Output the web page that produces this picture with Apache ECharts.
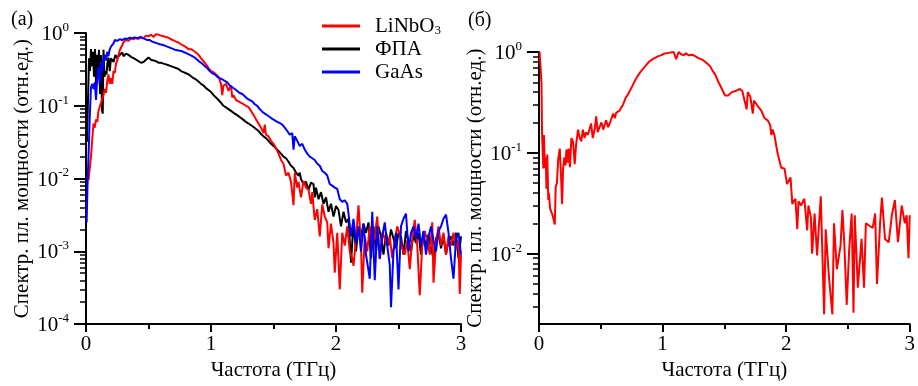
<!DOCTYPE html>
<html><head><meta charset="utf-8">
<script src="https://cdn.jsdelivr.net/npm/echarts@6/dist/echarts.min.js"></script>
<style>html,body{margin:0;padding:0;background:#fff}#c{width:918px;height:386px}</style>
</head><body><div id="c"></div>
<script>
// ---- data (a): LiNbO3 ----
var fLiNbO3 = [0.02,0.03,0.04,0.05,0.06,0.07,0.08,0.09,0.10,0.11,0.12,0.13,0.14,0.15,0.16,0.17,0.18,0.19,0.20,0.21,0.22,0.23,0.24,0.25,0.26,0.27,0.28,0.29,0.30,0.32,0.34,0.36,0.38,0.40,0.42,0.44,0.46,0.48,0.50,0.52,0.54,0.56,0.58,0.60,0.62,0.64,0.66,0.68,0.70,0.72,0.74,0.76,0.78,0.80,0.82,0.84,0.86,0.88,0.90,0.92,0.94,0.96,0.98,1.00,1.02,1.04,1.06,1.08,1.09,1.10,1.12,1.14,1.16,1.17,1.18,1.20,1.22,1.24,1.26,1.28,1.30,1.32,1.34,1.36,1.38,1.40,1.42,1.43,1.44,1.46,1.48,1.50,1.52,1.54,1.56,1.58,1.60,1.62,1.64,1.66,1.67,1.69,1.70,1.72,1.74,1.76,1.78,1.80,1.81,1.83,1.85,1.87,1.89,1.91,1.93,1.94,1.96,1.98,1.99,2.01,2.03,2.05,2.07,2.09,2.11,2.13,2.14,2.16,2.18,2.20,2.21,2.23,2.25,2.27,2.29,2.31,2.33,2.35,2.37,2.39,2.41,2.43,2.45,2.47,2.49,2.51,2.53,2.55,2.57,2.59,2.61,2.63,2.65,2.67,2.69,2.71,2.73,2.75,2.77,2.78,2.80,2.82,2.84,2.86,2.88,2.90,2.92,2.94,2.96,2.98,2.99,3.00];
var sLiNbO3 = [0.0095,0.009,0.02,0.035,0.057,0.05,0.065,0.06,0.085,0.09,0.11,0.115,0.14,0.17,0.15,0.22,0.27,0.2,0.24,0.2,0.3,0.28,0.38,0.42,0.5,0.58,0.55,0.68,0.75,0.8,0.78,0.84,0.82,0.86,0.83,0.88,0.85,0.92,0.9,0.95,0.88,0.96,0.95,0.92,0.9,0.88,0.86,0.82,0.79,0.76,0.74,0.7,0.67,0.64,0.6,0.6,0.57,0.54,0.5,0.45,0.41,0.37,0.33,0.30,0.29,0.27,0.25,0.2,0.14,0.19,0.2,0.16,0.19,0.13,0.14,0.12,0.115,0.11,0.105,0.1,0.096,0.085,0.075,0.065,0.057,0.05,0.042,0.055,0.04,0.038,0.033,0.03,0.026,0.022,0.018,0.016,0.011,0.012,0.009,0.0043,0.012,0.0075,0.009,0.0055,0.0093,0.0075,0.007,0.0045,0.0065,0.0027,0.0038,0.0016,0.0044,0.003,0.0025,0.0011,0.0024,0.0013,0.00051,0.0018,0.0003,0.0018,0.0012,0.0022,0.001,0.0008,0.00063,0.0015,0.0043,0.0012,0.00027,0.0016,0.001,0.0022,0.0012,0.0016,0.003,0.00078,0.0018,0.0015,0.0012,0.0016,0.0008,0.0014,0.0022,0.0017,0.0011,0.0009,0.0014,0.00057,0.0015,0.0027,0.0012,0.00025,0.0012,0.0019,0.0014,0.0009,0.0025,0.00037,0.0013,0.0022,0.0012,0.0018,0.0009,0.0016,0.0012,0.0018,0.0011,0.0014,0.00026,0.0009];
// ---- data (a): ФПА ----
var fFPA = [0.008,0.016,0.024,0.032,0.04,0.048,0.056,0.064,0.072,0.08,0.088,0.096,0.104,0.112,0.12,0.128,0.134,0.14,0.148,0.156,0.164,0.172,0.18,0.19,0.20,0.21,0.22,0.235,0.25,0.26,0.275,0.29,0.30,0.32,0.34,0.36,0.38,0.40,0.42,0.44,0.46,0.48,0.50,0.52,0.54,0.56,0.58,0.60,0.62,0.64,0.66,0.68,0.70,0.72,0.74,0.76,0.78,0.80,0.82,0.84,0.86,0.88,0.90,0.92,0.94,0.96,0.98,1.00,1.02,1.04,1.06,1.08,1.10,1.12,1.14,1.16,1.18,1.20,1.22,1.24,1.26,1.28,1.30,1.32,1.34,1.36,1.38,1.40,1.42,1.44,1.46,1.48,1.50,1.52,1.54,1.56,1.58,1.60,1.62,1.64,1.66,1.68,1.70,1.71,1.72,1.74,1.76,1.78,1.80,1.82,1.83,1.84,1.86,1.88,1.90,1.92,1.94,1.96,1.98,2.00,2.02,2.04,2.06,2.08,2.10,2.12,2.14,2.16,2.18,2.20,2.22,2.24,2.26,2.28,2.30,2.32,2.34,2.36,2.38,2.40,2.42,2.44,2.46,2.48,2.50,2.52,2.54,2.56,2.58,2.60,2.62,2.64,2.66,2.68,2.70,2.72,2.74,2.76,2.78,2.80,2.82,2.84,2.86,2.88,2.90,2.92,2.94,2.96,2.98,3.00];
var sFPA = [0.032,0.12,0.45,0.3,0.6,0.35,0.55,0.25,0.6,0.2,0.5,0.3,0.59,0.145,0.5,0.086,0.078,0.59,0.25,0.3,0.27,0.4,0.46,0.3,0.45,0.47,0.4,0.5,0.45,0.48,0.5,0.54,0.48,0.52,0.5,0.47,0.45,0.43,0.41,0.39,0.4,0.43,0.46,0.43,0.42,0.41,0.39,0.39,0.38,0.37,0.36,0.35,0.34,0.33,0.32,0.3,0.29,0.28,0.27,0.255,0.24,0.23,0.215,0.2,0.19,0.175,0.165,0.155,0.14,0.13,0.12,0.11,0.1,0.095,0.09,0.085,0.08,0.076,0.072,0.068,0.064,0.06,0.057,0.054,0.051,0.048,0.045,0.041,0.038,0.036,0.033,0.03,0.028,0.026,0.024,0.022,0.02,0.019,0.017,0.015,0.014,0.012,0.011,0.012,0.0098,0.0085,0.009,0.007,0.0088,0.0084,0.0055,0.0075,0.0052,0.0065,0.0045,0.0055,0.0035,0.0045,0.003,0.0042,0.0037,0.0022,0.0035,0.0025,0.0028,0.0007,0.0025,0.001,0.0022,0.0016,0.0024,0.0018,0.0025,0.0008,0.0022,0.001,0.0022,0.0016,0.0009,0.0018,0.0012,0.002,0.0015,0.0011,0.0018,0.0016,0.0009,0.0019,0.0014,0.001,0.0017,0.0013,0.0018,0.0009,0.0016,0.0012,0.0017,0.0011,0.0008,0.0015,0.0018,0.0011,0.0016,0.0009,0.0014,0.0016,0.0012,0.0018,0.0008,0.0016];
// ---- data (a): GaAs ----
var fGaAs = [0.005,0.012,0.02,0.03,0.04,0.05,0.06,0.07,0.08,0.09,0.10,0.11,0.12,0.13,0.14,0.15,0.16,0.17,0.18,0.19,0.20,0.21,0.22,0.23,0.25,0.27,0.29,0.31,0.33,0.35,0.37,0.39,0.41,0.43,0.45,0.47,0.49,0.51,0.53,0.55,0.57,0.59,0.61,0.63,0.65,0.67,0.69,0.71,0.73,0.75,0.77,0.79,0.81,0.83,0.85,0.87,0.89,0.91,0.93,0.95,0.97,0.99,1.01,1.03,1.05,1.07,1.09,1.11,1.13,1.15,1.17,1.19,1.21,1.23,1.25,1.27,1.29,1.31,1.33,1.35,1.37,1.39,1.41,1.43,1.45,1.47,1.49,1.51,1.53,1.55,1.57,1.59,1.61,1.63,1.65,1.66,1.67,1.69,1.71,1.73,1.75,1.77,1.79,1.81,1.83,1.85,1.87,1.89,1.91,1.93,1.95,1.97,1.99,2.01,2.03,2.05,2.07,2.09,2.10,2.12,2.14,2.16,2.18,2.20,2.22,2.24,2.27,2.29,2.31,2.33,2.35,2.37,2.39,2.41,2.43,2.44,2.46,2.48,2.50,2.52,2.54,2.56,2.58,2.60,2.62,2.64,2.66,2.68,2.70,2.72,2.74,2.76,2.78,2.80,2.82,2.84,2.86,2.88,2.90,2.92,2.94,2.96,2.98,3.00];
var sGaAs = [0.0025,0.008,0.02,0.07,0.18,0.2,0.17,0.21,0.12,0.25,0.34,0.2,0.4,0.3,0.45,0.5,0.42,0.55,0.48,0.6,0.65,0.69,0.72,0.8,0.78,0.82,0.8,0.84,0.83,0.86,0.85,0.87,0.84,0.88,0.85,0.83,0.8,0.8,0.76,0.74,0.72,0.7,0.69,0.67,0.65,0.63,0.61,0.59,0.58,0.57,0.56,0.54,0.52,0.5,0.48,0.46,0.43,0.4,0.38,0.35,0.33,0.3,0.28,0.27,0.25,0.24,0.23,0.22,0.21,0.19,0.18,0.17,0.16,0.15,0.145,0.135,0.125,0.12,0.115,0.105,0.1,0.09,0.083,0.078,0.074,0.07,0.066,0.063,0.06,0.058,0.055,0.05,0.045,0.04,0.042,0.025,0.038,0.033,0.028,0.03,0.025,0.022,0.02,0.019,0.018,0.016,0.015,0.0127,0.012,0.011,0.0084,0.008,0.0075,0.0072,0.0052,0.0048,0.005,0.0045,0.0033,0.0016,0.0028,0.0013,0.0022,0.001,0.0024,0.0009,0.00042,0.0035,0.0004,0.0022,0.0008,0.0016,0.0025,0.0012,0.00065,0.00017,0.001,0.0018,0.0003,0.0022,0.0028,0.0033,0.001,0.0018,0.0022,0.0015,0.0024,0.0012,0.0019,0.0009,0.0016,0.0022,0.0014,0.001,0.0019,0.0022,0.0028,0.0032,0.0018,0.0008,0.00042,0.0015,0.0018,0.0009];
// ---- data (б) ----
var fB = [0.005,0.015,0.02,0.025,0.035,0.04,0.048,0.055,0.06,0.067,0.075,0.08,0.09,0.10,0.11,0.128,0.135,0.145,0.155,0.168,0.178,0.187,0.195,0.205,0.215,0.222,0.232,0.24,0.25,0.262,0.275,0.289,0.30,0.316,0.33,0.342,0.355,0.369,0.38,0.395,0.41,0.422,0.435,0.45,0.463,0.475,0.49,0.505,0.52,0.543,0.56,0.575,0.588,0.60,0.613,0.625,0.638,0.65,0.665,0.68,0.703,0.72,0.743,0.77,0.795,0.823,0.85,0.87,0.89,0.92,0.957,0.99,1.01,1.05,1.09,1.11,1.13,1.15,1.17,1.19,1.21,1.24,1.27,1.29,1.32,1.345,1.365,1.385,1.405,1.425,1.45,1.48,1.505,1.53,1.56,1.59,1.625,1.645,1.66,1.68,1.69,1.71,1.73,1.74,1.77,1.80,1.826,1.85,1.87,1.88,1.89,1.905,1.93,1.96,1.986,2.007,2.02,2.035,2.05,2.06,2.075,2.09,2.10,2.12,2.147,2.17,2.18,2.20,2.21,2.23,2.25,2.28,2.307,2.32,2.347,2.374,2.387,2.41,2.44,2.455,2.47,2.49,2.51,2.53,2.545,2.555,2.58,2.61,2.63,2.645,2.67,2.70,2.72,2.735,2.76,2.775,2.80,2.83,2.855,2.88,2.905,2.935,2.96,2.975,2.99,3.00];
var sB = [1.0,1.0,0.5,0.15,0.07,0.15,0.071,0.09,0.044,0.096,0.034,0.04,0.028,0.027,0.024,0.0195,0.046,0.05,0.085,0.11,0.06,0.031,0.07,0.09,0.075,0.108,0.08,0.11,0.072,0.14,0.13,0.077,0.12,0.17,0.14,0.13,0.17,0.14,0.16,0.15,0.15,0.195,0.14,0.17,0.23,0.16,0.18,0.2,0.17,0.21,0.18,0.2,0.2,0.245,0.22,0.25,0.26,0.26,0.28,0.3,0.355,0.38,0.43,0.5,0.57,0.64,0.7,0.75,0.8,0.85,0.9,0.93,0.96,0.98,1.0,0.85,1.0,0.95,0.93,0.97,0.93,0.94,0.9,0.87,0.84,0.8,0.76,0.72,0.65,0.6,0.51,0.43,0.37,0.37,0.4,0.41,0.43,0.41,0.4,0.27,0.4,0.36,0.245,0.33,0.29,0.26,0.22,0.21,0.19,0.15,0.17,0.15,0.1,0.071,0.07,0.049,0.051,0.057,0.031,0.033,0.035,0.0175,0.033,0.03,0.035,0.017,0.03,0.023,0.01,0.025,0.0096,0.037,0.0025,0.0174,0.0057,0.0025,0.02,0.007,0.012,0.027,0.013,0.0031,0.011,0.025,0.0026,0.024,0.0046,0.014,0.0046,0.02,0.019,0.018,0.025,0.005,0.02,0.036,0.014,0.013,0.024,0.034,0.013,0.03,0.02,0.024,0.009,0.024];
// ---- axes / labels ----
var xTicks = [0, 1, 2, 3];
var yMajorA = [1e-4, 1e-3, 1e-2, 1e-1, 1];
var yMajorB = [1e-2, 1e-1, 1];
var seriesNames = ['LiNbO3', 'ФПА', 'GaAs'];
var xName = 'Частота (ТГц)';
var yName = 'Спектр. пл. мощности (отн.ед.)';
var panelLabels = ['(а)', '(б)'];

function pairs(f, s) { return f.map(function (x, i) { return [x, s[i]]; }); }
function minorTicks(lo, hi) {
  var out = [];
  for (var e = Math.floor(Math.log10(lo)); e < Math.ceil(Math.log10(hi)); e++) {
    for (var k = 2; k <= 9; k++) { var v = k * Math.pow(10, e); if (v > lo * 1.0001 && v < hi) out.push(+v.toPrecision(3)); }
  }
  return out;
}
var FONT = 'Liberation Serif';
var labelRich = {
  b: { fontSize: 21, fontFamily: FONT, color: '#000', lineHeight: 24, verticalAlign: 'bottom' },
  s: { fontSize: 13, fontFamily: FONT, color: '#000', lineHeight: 13, verticalAlign: 'top' }
};
function yFmt(v) {
  var e = Math.round(Math.log10(v));
  if (Math.abs(Math.log10(v) - e) > 1e-6) return '';
  return '{b|10}{s|' + e + '}';
}
function xAxisDef(gi) {
  return {
    gridIndex: gi, type: 'value', min: 0, max: 3, interval: 1,
    name: xName, nameLocation: 'middle', nameGap: 35,
    nameTextStyle: { fontFamily: FONT, fontSize: 21, color: '#000' },
    axisLine: { lineStyle: { color: '#000', width: 2 } },
    axisTick: { length: 8, lineStyle: { width: 2 } },
    minorTick: { show: true, splitNumber: 2, length: 5, lineStyle: { color: '#000', width: 2 } },
    splitLine: { show: false },
    axisLabel: { fontFamily: FONT, fontSize: 21, color: '#000', margin: 10, customValues: xTicks }
  };
}
function yAxesDef(gi, lo, hi, majors) {
  return [{
    gridIndex: gi, type: 'log', logBase: 10, min: lo, max: hi, position: 'left',
    name: yName, nameLocation: 'middle', nameGap: 52,
    nameTextStyle: { fontFamily: FONT, fontSize: 21, color: '#000' },
    axisLine: { show: true, lineStyle: { color: '#000', width: 2 } },
    axisTick: { show: true, length: 12, lineStyle: { width: 2 }, customValues: majors },
    splitLine: { show: false },
    axisLabel: { margin: 17, formatter: yFmt, rich: labelRich, customValues: majors }
  }, {
    gridIndex: gi, type: 'log', logBase: 10, min: lo, max: hi, position: 'left',
    axisLine: { show: false },
    axisTick: { show: true, length: 6, lineStyle: { color: '#000', width: 1.5 }, customValues: minorTicks(lo, hi) },
    splitLine: { show: false },
    axisLabel: { show: false }
  }];
}

var chart = echarts.init(document.getElementById('c'), null, { renderer: 'canvas' });
chart.setOption({
  animation: false,
  backgroundColor: '#fff',
  title: [
    { text: panelLabels[0], left: 6, top: 5, textStyle: { fontFamily: FONT, fontSize: 20, fontWeight: 'normal', color: '#000' } },
    { text: panelLabels[1], left: 463, top: 6, textStyle: { fontFamily: FONT, fontSize: 20, fontWeight: 'normal', color: '#000' } }
  ],
  legend: {
    data: seriesNames, orient: 'vertical', left: 317, top: 10, itemWidth: 38, itemHeight: 3, itemGap: 1,
    icon: 'rect',
    formatter: function (n) { return '{gap|}' + (n === 'LiNbO3' ? '{t|LiNbO}{sub|3}' : '{t|' + n + '}'); },
    textStyle: {
      fontFamily: FONT, fontSize: 21, color: '#000', lineHeight: 22,
      rich: {
        gap: { width: 10, height: 10 },
        t: { fontFamily: FONT, fontSize: 21, color: '#000', lineHeight: 22 },
        sub: { fontFamily: FONT, fontSize: 13, verticalAlign: 'bottom', lineHeight: 16, color: '#000' }
      }
    }
  },
  grid: [
    { left: 86, top: 33, width: 375, height: 296 },
    { left: 539, top: 52, width: 374, height: 278 }
  ],
  xAxis: [xAxisDef(0), xAxisDef(1)],
  yAxis: yAxesDef(0, 1e-4, 1, yMajorA).concat(yAxesDef(1, 0.002, 1, yMajorB)),
  series: [
    { name: seriesNames[0], type: 'line', xAxisIndex: 0, yAxisIndex: 0, symbol: 'none', z: 3, lineStyle: { color: '#ff0000', width: 2 }, itemStyle: { color: '#ff0000' }, data: pairs(fLiNbO3, sLiNbO3) },
    { name: seriesNames[1], type: 'line', xAxisIndex: 0, yAxisIndex: 0, symbol: 'none', z: 2, lineStyle: { color: '#000000', width: 2 }, itemStyle: { color: '#000000' }, data: pairs(fFPA, sFPA) },
    { name: seriesNames[2], type: 'line', xAxisIndex: 0, yAxisIndex: 0, symbol: 'none', z: 4, lineStyle: { color: '#0000ff', width: 2 }, itemStyle: { color: '#0000ff' }, data: pairs(fGaAs, sGaAs) },
    { name: 'б', type: 'line', xAxisIndex: 1, yAxisIndex: 2, symbol: 'none', lineStyle: { color: '#ff0000', width: 2 }, itemStyle: { color: '#ff0000' }, data: pairs(fB, sB) }
  ]
});
</script></body></html>
